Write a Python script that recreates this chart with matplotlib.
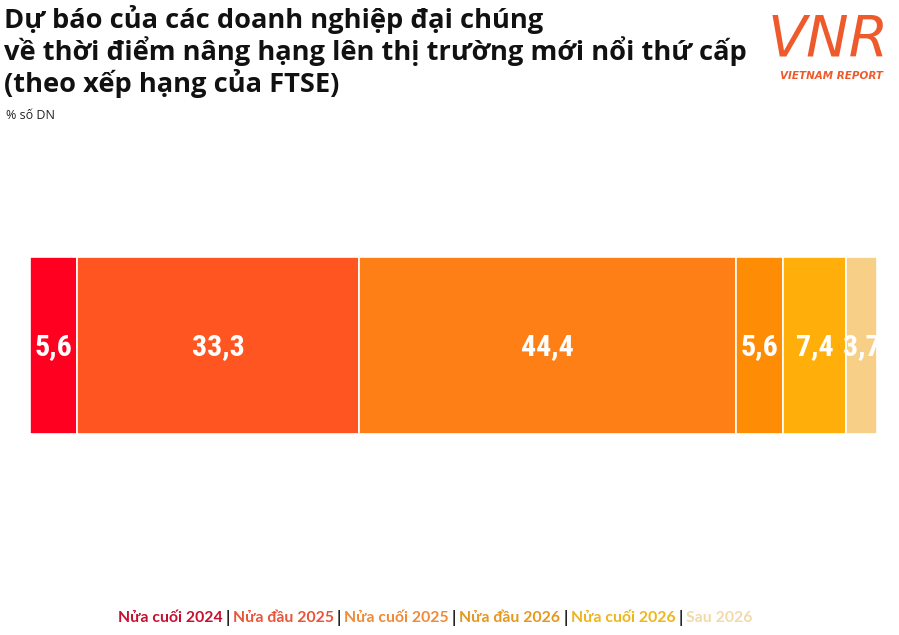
import matplotlib
matplotlib.use("Agg")
import matplotlib.pyplot as plt
from matplotlib import font_manager

categories = ["Nửa cuối 2024", "Nửa đầu 2025", "Nửa cuối 2025", "Nửa đầu 2026", "Nửa cuối 2026", "Sau 2026"]
values = [5.6, 33.3, 44.4, 5.6, 7.4, 3.7]
labels = ["5,6", "33,3", "44,4", "5,6", "7,4", "3,7"]
bar_colors = ["#FF0021", "#FF5520", "#FF7F17", "#FF8C05", "#FFAE0A", "#F8CF86"]
legend_colors = ["#C8102E", "#E8553A", "#F08A36", "#E5981E", "#EDB51E", "#F3D9A9"]

installed = {f.name for f in font_manager.fontManager.ttflist}
narrow = None
for cand in ["Liberation Sans Narrow", "DejaVu Sans Condensed", "Roboto Condensed", "Open Sans Condensed", "Roboto"]:
    if cand in installed:
        narrow = cand
        break
narrow_family = [narrow, "DejaVu Sans"] if narrow else ["DejaVu Sans"]

W, H = 899, 635
fig = plt.figure(figsize=(W / 100, H / 100), dpi=100)

ax = fig.add_axes([30 / W, (H - 434) / H, 847 / W, 177 / H])
left = 0
for v, c, lab in zip(values, bar_colors, labels):
    ax.barh(0, v, left=left, height=1, color=c, edgecolor="white", linewidth=1.2)
    ax.text(left + v / 2, -0.01, lab, ha="center", va="center", color="white",
            fontsize=21.5, fontweight="bold", family=narrow_family)
    left += v
ax.set_xlim(0, sum(values))
ax.set_ylim(-0.5, 0.5)
ax.axis("off")

title_font = ["Open Sans", "DejaVu Sans"]
title_lines = ["Dự báo của các doanh nghiệp đại chúng",
               "về thời điểm nâng hạng lên thị trường mới nổi thứ cấp",
               "(theo xếp hạng của FTSE)"]
for i, t in enumerate(title_lines):
    fig.text(4 / W, 1 - (28 + i * 32) / H, t, fontsize=19.6, fontweight="bold",
             family=title_font, color="#111111", va="baseline")
fig.text(6 / W, 1 - 119 / H, "% số DN", fontsize=9, family=title_font, color="#222222", va="baseline")

# Logo
fig.text(768 / W, 1 - 57 / H, "VNR", fontsize=41, fontstyle="italic", fontweight="normal",
         family=["DejaVu Sans"], color="#EE5A2C", va="baseline")
fig.text(831 / W, 1 - 79 / H, "VIETNAM REPORT", fontsize=7.5, fontstyle="italic", fontweight="bold",
         family=["DejaVu Sans"], color="#EE5A2C", va="baseline", ha="center")

# Legend
x = 118
lfont = ["Lato", "DejaVu Sans"]
renderer = fig.canvas.get_renderer()
for i, (cat, col) in enumerate(zip(categories, legend_colors)):
    t = fig.text(x / W, 1 - 622 / H, cat, fontsize=11.3, fontweight="bold", family=lfont,
                 color=col, va="baseline")
    bb = t.get_window_extent(renderer=renderer)
    x = bb.x1 + 3
    if i < len(categories) - 1:
        s = fig.text(x / W, 1 - 623 / H, "|", fontsize=12, fontweight="bold", family=lfont,
                     color="#222222", va="baseline")
        bb = s.get_window_extent(renderer=renderer)
        x = bb.x1 + 3

fig.savefig("out.png", dpi=100, facecolor="white")
